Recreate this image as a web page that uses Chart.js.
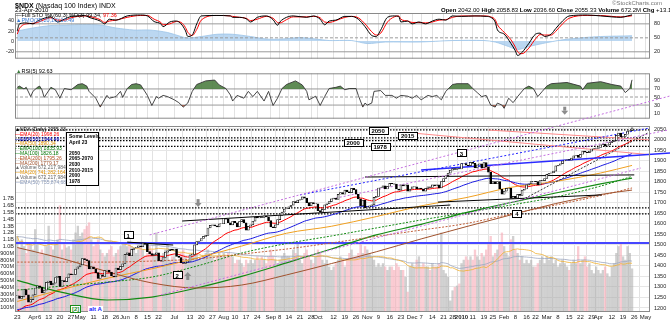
<!DOCTYPE html>
<html>
<head>
<meta charset="utf-8">
<script src="https://cdn.jsdelivr.net/npm/chart.js@4.4.1/dist/chart.umd.min.js"></script>
<style>
  body { margin:0; width:670px; height:322px; overflow:hidden; background:#fff; position:relative; font-family:"Liberation Sans", Arial, sans-serif; }
  canvas { position:absolute; left:0; }
  .t { position:absolute; white-space:nowrap; font-size:6px; line-height:5px; color:#000; }
  .b { font-weight:bold; }
  #legend { font-size:5px; line-height:4.8px; }
  #levels { position:absolute; left:66px; top:132px; width:33px; height:54px; border:1px solid #000; background:#fff; font-size:5px; line-height:5.6px; font-weight:bold; padding:1px 0 0 2px; box-sizing:border-box; white-space:nowrap; }
  .tag { position:absolute; font-size:6px; line-height:6px; font-weight:bold; background:#fff; padding:0 1px; white-space:nowrap; }
</style>
</head>
<body>
<canvas id="sto" width="670" height="66" style="top:0"></canvas>
<canvas id="rsi" width="670" height="60" style="top:66px"></canvas>
<canvas id="px" width="670" height="256" style="top:66px"></canvas>

<div class="t" style="left:15px;top:2px;font-size:7px;line-height:7px"><span class="b">$NDX</span> (Nasdaq 100 Index) INDX</div>
<div class="t" style="left:15px;top:8px">23-Apr-2010</div>
<div class="t" style="left:612px;top:1px;color:#777">&copy;StockCharts.com</div>
<div class="t" style="left:441px;top:8px"><span class="b">Open</span> 2042.00 <span class="b">High</span> 2058.83 <span class="b">Low</span> 2036.60 <span class="b">Close</span> 2055.33 <span class="b">Volume</span> 672.2M <span class="b">Chg</span> +13.17 (+0.65%) &#9650;</div>

<div class="t" style="left:16px;top:13px;font-size:5.5px">&mdash;Full STO %K(60,3) %D(3) 99.34, <span style="color:#f00">97.36</span></div>
<div class="t" style="left:16px;top:18px;font-size:5.5px;color:#3a7bd5">&#9650;PMO(35,20,10) 10.49</div>
<div class="t" style="left:16px;top:69px;font-size:5.5px"><span style="color:#3a7a3a">&#9650;</span>RSI(5) 92.63</div>

<div class="t" id="legend" style="left:15px;top:127px">
  <div><span style="color:#000">&#9650;</span>NDX (Daily) 2055.33</div>
  <div style="color:#f00">&mdash;EMA(20) 1998.26</div>
  <div style="color:#00c">&mdash;EMA(50) 1944.49</div>
  <div style="color:#e09000">&mdash;MA(50) 1890.34</div>
  <div style="color:#070">- -EMA(100) 1835.93</div>
  <div style="color:#070">&mdash;MA(100) 1826.18</div>
  <div style="color:#b05020">- -EMA(200) 1795.26</div>
  <div style="color:#a0522d">&mdash;MA(200) 1779.17</div>
  <div style="color:#666">&#9650;Volume 672,217,984</div>
  <div style="color:#e09000">&mdash;MA(20) 741,282,164</div>
  <div style="color:#666">&#9650;Volume 672,217,984</div>
  <div style="color:#8898b8">&mdash;EMA(50) 755,874,688</div>
</div>
<div id="levels">Some Levels<br>April 23<br><br>2050<br>2065-2070<br>2030<br>2010-2015<br>2000<br>1978</div>
<div class="tag" style="left:70px;top:305px;color:#1a8a1a;border:1px solid #1a8a1a">[2]</div>
<div class="tag" style="left:88px;top:306px;color:#2020ff">alt A</div>

<script>
var F = '"Liberation Sans", Arial, sans-serif';

// ---------- data ----------
var holidays = ['2009-04-10','2009-05-25','2009-07-03','2009-09-07','2009-11-26','2009-12-25',
                '2010-01-01','2010-01-18','2010-02-15','2010-04-02'];

// daily closes, 23 Mar 2009 .. 23 Apr 2010
var closes = [
  1258,1245,1255,1288,1262,1228,1240,
  1262,1295,1305,1298,1272,1285,1322,1328,1310,1318,1345,1350,1302,1330,1325,1345,1362,1358,1360,1385,1395,
  1405,1435,1430,1425,1385,1395,1385,1368,1340,1358,1350,1378,1380,1370,1352,1348,1390,1382,1398,1410,
  1455,1462,1448,1478,1485,1488,1495,1490,1508,1502,1468,1458,1450,1455,1462,1425,1422,1440,1465,1472,1480,1475,
  1480,1445,1440,1415,1412,1418,1422,1452,1455,1500,1515,1518,1530,1540,1545,1580,1592,1595,1590,1585,1600,1600,
  1625,1622,1605,1595,1612,1605,1585,1610,1620,1605,1570,1588,1595,1612,1630,1628,1632,1630,1638,1632,1615,
  1585,1582,1595,1620,1640,1655,1670,1672,1680,1688,1705,1700,1712,1715,1728,1722,1700,1685,1700,1695,1695,
  1662,1655,1668,1690,1695,1705,1718,1722,1715,1740,1748,1740,1760,1752,1748,1768,1762,1740,1718,1685,1712,1675,
  1680,1685,1690,1725,1730,1770,1772,1780,1765,1778,1792,1790,1788,1765,1760,1785,1780,1785,1755,1765,
  1775,1775,1765,1770,1765,1755,1768,1775,1772,1785,1780,1785,1770,1800,1815,1828,1840,1855,1862,1858,1862,1860,
  1886,1886,1878,1876,1892,1887,1865,1880,1884,1865,1890,1870,1845,1790,1800,1790,1800,1765,1740,
  1755,1768,1770,1720,1730,1722,1740,1735,1760,1765,1785,1790,1800,1802,1800,1785,1805,1805,1815,
  1835,1840,1842,1850,1875,1878,1885,1898,1902,1905,1902,1912,1922,1925,1915,1930,1945,1940,1938,1945,1955,1958,1958,
  1962,1975,1978,1968,1975,1985,1990,1995,2020,2030,2012,2015,2025,2040,2042,2055
];

// daily volume, millions
var volumes = [
  1150,980,1100,1000,900,1050,1020,
  950,1250,1050,900,950,880,1000,1300,1000,950,1050,1100,1600,950,1050,980,1000,950,1100,1200,1300,
  1150,1200,1250,1300,1350,1100,1000,1050,1100,950,900,850,900,950,1000,850,900,950,1000,1050,
  1050,1000,1050,1000,950,900,950,1000,950,850,900,1000,950,900,1200,900,850,900,950,1050,800,850,
  850,800,750,900,950,850,800,850,900,950,900,800,800,850,900,950,900,850,800,850,900,850,
  900,850,900,850,850,750,800,800,750,700,800,750,800,750,800,850,800,850,800,750,850,
  950,850,800,750,800,850,900,850,850,800,950,900,1050,800,750,900,950,850,800,750,850,
  950,900,800,750,800,700,650,700,750,800,850,800,700,800,900,950,850,850,900,1050,900,1000,
  950,900,850,800,700,750,700,750,700,650,700,700,650,750,700,650,650,550,330,700,
  750,700,800,850,700,750,700,700,650,750,700,700,750,1200,650,600,550,200,350,400,420,450,
  750,800,850,800,850,800,950,850,800,900,850,950,1050,1150,850,900,950,1050,1200,
  1000,900,850,1100,1150,950,900,800,850,750,800,750,800,700,700,750,800,850,750,
  850,800,850,750,800,700,750,800,750,700,650,750,800,750,1000,750,800,850,700,750,650,600,700,
  650,600,650,700,600,550,700,750,900,1000,1050,850,800,1000,900,672
];

// moving averages (bar index -> value)
var maIdx      = [0, 20, 40, 60, 80, 100, 120, 140, 160, 180, 200, 220, 240, 260, 274];
var ma50       = [1231,1288,1341,1386,1437,1494,1555,1588,1634,1685,1724,1773,1801,1841,1877];
var ema100     = [1285,1304,1323,1347,1399,1461,1506,1542,1580,1618,1653,1689,1727,1779,1825];
var ma100      = [1331,1274,1238,1252,1295,1350,1414,1480,1547,1597,1653,1701,1746,1789,1817];
var ema200     = [1418,1418,1418,1423,1433,1456,1480,1509,1540,1570,1601,1646,1689,1734,1770];
var ma200      = [1487,1435,1373,1319,1295,1309,1357,1411,1467,1528,1586,1642,1696,1739,1760];
var ema20Start = 1185;
var ema50Start = 1192;

// Full Stochastics %K / %D  [bar index, value]
var stochK = [[0,65],[1,80],[4,82],[7,80],[9,86],[12,92],[15,95],[18,84],[21,90],[24,96],[27,97],[30,98],[32,94],[37,86],[39,80],[41,90],[44,88],[49,97],[55,99],[58,97],[61,85],[64,80],[65,74],[68,84],[71,86],[73,80],[75,65],[76,53],[78,56],[80,80],[82,97],[89,98],[95,97],[96,94],[99,94],[102,91],[104,84],[107,94],[111,97],[114,89],[116,77],[117,84],[120,94],[123,97],[129,94],[132,97],[135,90],[137,78],[139,86],[142,88],[146,96],[149,96],[152,90],[155,74],[158,55],[160,53],[162,67],[165,94],[168,97],[170,96],[171,84],[174,86],[176,80],[179,84],[182,80],[185,86],[188,90],[191,88],[194,97],[198,96],[204,97],[209,96],[211,94],[213,84],[214,67],[217,58],[220,38],[222,22],[223,12],[225,19],[228,38],[231,58],[233,60],[235,53],[238,58],[240,70],[243,86],[246,97],[254,99],[260,97],[265,95],[269,94],[272,97],[274,99.3]];
var stochD = [[0,58],[1,70],[4,80],[7,81],[9,83],[12,89],[15,93],[18,88],[21,88],[24,93],[27,96],[30,97],[32,96],[37,89],[39,83],[41,86],[44,88],[49,94],[55,98],[58,98],[61,90],[64,83],[65,78],[68,80],[71,85],[73,83],[75,72],[76,62],[78,55],[80,68],[82,88],[89,98],[95,97],[96,96],[99,94],[102,92],[104,87],[107,90],[111,96],[114,92],[116,83],[117,82],[120,89],[123,95],[129,95],[132,96],[135,93],[137,84],[139,83],[142,87],[146,94],[149,96],[152,93],[155,80],[158,63],[160,56],[162,60],[165,84],[168,95],[170,97],[171,90],[174,86],[176,83],[179,83],[182,82],[185,84],[188,88],[191,89],[194,94],[198,97],[204,97],[209,97],[211,95],[213,89],[214,78],[217,62],[220,46],[222,30],[223,20],[225,16],[228,28],[231,48],[233,57],[235,56],[238,56],[240,64],[243,80],[246,92],[254,98],[260,98],[265,96],[269,95],[272,96],[274,97.4]];

// PMO area  [bar index, value]
var pmo = [[0,20],[7,26],[15,31],[22,32],[29,33],[37,32],[44,26],[52,22],[59,22],[67,17],[73,9],[76,6],[82,9],[89,13.5],[96,13.5],[104,9],[111,4],[118,4],[126,7],[133,4],[139,1],[142,1],[149,1],[156,-5],[164,-2],[179,-2],[194,1],[208,1],[213,-2],[219,-11],[223,-17],[228,-11],[234,-5],[243,2.4],[253,7],[260,9],[274,10.5]];

// RSI(5)  [bar index, value]
var rsi5 = [[0,74],[1,77],[3,70],[4,74],[6,51],[7,64],[9,74],[10,77],[11,68],[12,49],[15,74],[17,68],[19,47],[21,71],[24,68],[27,81],[29,83],[31,77],[32,64],[35,47],[37,25],[38,35],[40,54],[41,47],[44,51],[46,64],[47,49],[49,71],[51,81],[53,83],[55,80],[58,54],[60,29],[62,51],[63,47],[65,54],[67,51],[70,43],[72,36],[74,25],[76,35],[78,64],[80,81],[84,90],[88,92],[90,80],[93,71],[95,55],[96,40],[98,54],[101,47],[103,64],[105,51],[107,64],[110,40],[112,64],[114,29],[116,47],[118,71],[120,81],[124,90],[127,80],[129,64],[130,43],[133,52],[135,29],[137,51],[139,71],[142,74],[144,77],[146,68],[148,71],[151,71],[152,54],[154,25],[155,35],[156,30],[158,35],[159,64],[162,66],[164,54],[167,54],[169,47],[171,54],[174,52],[176,47],[178,54],[180,43],[183,54],[185,51],[187,54],[189,43],[191,64],[194,81],[196,83],[201,83],[203,71],[205,61],[207,51],[209,54],[211,30],[213,25],[214,35],[216,30],[217,22],[219,47],[221,36],[223,51],[226,71],[228,77],[230,71],[232,51],[234,64],[236,77],[238,83],[245,86],[251,77],[252,68],[254,84],[260,88],[265,81],[269,77],[271,61],[273,71],[274,92.6]];

// drawn levels and trendlines (prices, bar index)
var dottedLevels = [2046, 2008, 1995, 1967, 1675, 1647];
var blueLevel    = 1509;
var purpleLines  = [[59, 1547, 291, 2207], [64, 1262, 278, 1865], [142, 1722, 290, 2045]];
var blueDotLines = [[126, 1737, 282, 2055]];
var blueLines    = [[180, 1855, 291, 1936]];
var blackLines   = [[73.5, 1613, 193, 1689], [155, 1822, 275, 1832], [187.5, 1703, 260.5, 1737], [49, 1513, 69.5, 1499]];
var blackDotLines = [[225, 1713, 281, 2031]];
var pinkLines    = [[210, 2045, 282, 1998], [172, 2035, 282, 1928]];

// annotation labels
var levelBoxes = [['2050', 160.8, 2045], ['2015', 174, 2021], ['2000', 149.7, 1988], ['1978', 161.7, 1969],
                  ['1', 49.4, 1547], ['2', 71.3, 1357], ['3', 198, 1936], ['4', 222.7, 1651]];
var downArrows = [[80.6, 1698]];
var upArrows   = [[76, 1352]];

var tickDates = [
  ['2009-03-23','23'],['2009-04-01','Apr'],['2009-04-06','6'],['2009-04-13','13'],['2009-04-20','20'],['2009-04-27','27'],
  ['2009-05-01','May'],['2009-05-11','11'],['2009-05-18','18'],['2009-05-26','26'],
  ['2009-06-01','Jun'],['2009-06-08','8'],['2009-06-15','15'],['2009-06-22','22'],
  ['2009-07-01','Jul'],['2009-07-13','13'],['2009-07-20','20'],['2009-07-27','27'],
  ['2009-08-03','Aug'],['2009-08-10','10'],['2009-08-17','17'],['2009-08-24','24'],
  ['2009-09-01','Sep'],['2009-09-08','8'],['2009-09-14','14'],['2009-09-21','21'],['2009-09-28','28'],
  ['2009-10-01','Oct'],['2009-10-12','12'],['2009-10-19','19'],['2009-10-26','26'],
  ['2009-11-02','Nov'],['2009-11-09','9'],['2009-11-16','16'],['2009-11-23','23'],
  ['2009-12-01','Dec'],['2009-12-07','7'],['2009-12-14','14'],['2009-12-21','21'],['2009-12-28','28'],
  ['2010-01-04','2010'],['2010-01-11','11'],['2010-01-19','19'],['2010-01-25','25'],
  ['2010-02-01','Feb'],['2010-02-08','8'],['2010-02-16','16'],['2010-02-22','22'],
  ['2010-03-01','Mar'],['2010-03-08','8'],['2010-03-15','15'],['2010-03-22','22'],['2010-03-29','29'],
  ['2010-04-01','Apr'],['2010-04-12','12'],['2010-04-19','19'],['2010-04-26','26'],['2010-05-03','May']
];

// ---------- trading days ----------
var days = [];
var d = new Date(Date.UTC(2009, 2, 23));
while (d.getTime() <= Date.UTC(2010, 4, 5)) {
  var s = d.toISOString().slice(0, 10), wd = d.getUTCDay();
  if (wd > 0 && wd < 6 && holidays.indexOf(s) < 0) days.push(s);
  d.setUTCDate(d.getUTCDate() + 1);
}
var tickIdx = tickDates.map(function (t) { return days.indexOf(t[0]); });

// ---------- helpers ----------
function pairs(a) { return a.map(function (p) { return {x: p[0], y: p[1]}; }); }
function pts(idx, vals) { return idx.map(function (x, k) { return {x: x, y: vals[k]}; }); }
function ema(src, n, seed) {
  var k = 2 / (n + 1), e = seed, out = [];
  for (var i = 0; i < src.length; i++) { if (i > 0) e += k * (src[i] - e); out.push({x: i, y: e}); }
  return out;
}
function sma(src, n) {
  var out = [];
  for (var i = 0; i < src.length; i++) {
    var a = Math.max(0, i - n + 1), s = 0;
    for (var j = a; j <= i; j++) s += src[j];
    out.push({x: i, y: s / (i - a + 1)});
  }
  return out;
}
function line(data, color, w, dash, axis, order, smooth) {
  return {type: 'line', data: data, borderColor: color, borderWidth: w, borderDash: dash || [],
          pointRadius: 0, fill: false, tension: 0, cubicInterpolationMode: smooth ? 'monotone' : 'default',
          yAxisID: axis, order: order || 5};
}
function hline(v, color, w, dash, axis, order) {
  return line([{x: -1, y: v}, {x: 282, y: v}], color, w, dash, axis, order);
}
function segs(list, color, w, dash, out) {
  list.forEach(function (l) {
    var ds = line([{x: l[0], y: l[1]}, {x: l[2], y: l[3]}], color, w, dash, 'p', 4);
    // trendlines may run on over the panel above, as in the original
    ds.clip = {left: 0, top: 60, right: 20, bottom: 0};
    out.push(ds);
  });
}

function xScale(labels) {
  return {
    type: 'linear', min: -1, max: 282, offset: false,
    afterBuildTicks: function (s) { s.ticks = tickIdx.map(function (v) { return {value: v}; }); },
    afterFit: function (s) { s.height = labels ? 10 : 0; },
    grid: {color: '#e2e2e2', drawTicks: false},
    border: {display: false},
    ticks: {display: labels, autoSkip: false, maxRotation: 0, padding: 2, color: '#222',
      font: function (c) { var k = tickIdx.indexOf(c.tick ? c.tick.value : -5);
        return {size: 6, family: F, weight: (k >= 0 && tickDates[k][1] === '2010') ? 'bold' : 'normal'}; },
      callback: function (v) { var k = tickIdx.indexOf(v); return k >= 0 ? tickDates[k][1] : ''; }}
  };
}
function yScale(pos, min, max, ticks, fmt, grid) {
  return {
    type: 'linear', position: pos, min: min, max: max,
    afterBuildTicks: function (s) { s.ticks = ticks.map(function (v) { return {value: v}; }); },
    afterFit: function (s) { s.width = pos === 'left' ? 15 : 20; },
    grid: {display: !!grid, color: '#e6e6e6', drawTicks: false, tickLength: 0},
    border: {display: false},
    ticks: {font: {size: 5.5, family: F}, color: '#222', padding: pos === 'left' ? 1 : 4,
            callback: fmt || function (v) { return v; }}
  };
}

var framePlugin = {
  id: 'frame',
  afterDraw: function (c) {
    var a = c.chartArea, g = c.ctx;
    g.save(); g.strokeStyle = '#8a8a8a'; g.lineWidth = 1;
    g.strokeRect(a.left + 0.5, a.top + 0.5, a.right - a.left - 1, a.bottom - a.top - 1);
    g.restore();
  }
};

function arrow(g, x, y, up) {
  var s = up ? -1 : 1;
  g.fillStyle = '#8c8c8c';
  g.fillRect(x - 1.5, y - 4 * s, 3, 4 * s);
  g.beginPath(); g.moveTo(x - 3.5, y); g.lineTo(x + 3.5, y); g.lineTo(x, y + 4 * s); g.closePath(); g.fill();
}

var notesPlugin = {
  id: 'notes',
  afterDatasetsDraw: function (c, args, o) {
    if (!o.axis) return;
    var g = c.ctx, xs = c.scales.x, ys = c.scales[o.axis];
    g.save();
    g.font = 'bold 6px ' + F; g.textAlign = 'center'; g.textBaseline = 'middle';
    (o.boxes || []).forEach(function (b) {
      var x = xs.getPixelForValue(b[1]), y = ys.getPixelForValue(b[2]);
      var w = Math.round(g.measureText(b[0]).width + 6), h = 7;
      var l = Math.round(x - w / 2), t = Math.round(y - h / 2);
      g.fillStyle = '#fff'; g.fillRect(l, t, w, h);
      g.strokeStyle = '#000'; g.lineWidth = 1; g.strokeRect(l + 0.5, t + 0.5, w, h);
      g.fillStyle = '#000'; g.fillText(b[0], x, y + 1);
    });
    (o.down || []).forEach(function (a) { arrow(g, xs.getPixelForValue(a[0]), ys.getPixelForValue(a[1]), false); });
    (o.up || []).forEach(function (a) { arrow(g, xs.getPixelForValue(a[0]), ys.getPixelForValue(a[1]), true); });
    g.restore();
  }
};
Chart.register(framePlugin, notesPlugin);

function baseOptions(pad, scales, notes) {
  return {
    responsive: false, animation: false, events: [],
    layout: {padding: pad},
    plugins: {legend: {display: false}, tooltip: {enabled: false}, notes: notes || {}},
    scales: scales
  };
}

// ---------- stochastics panel ----------
new Chart(document.getElementById('sto'), {
  type: 'line',
  data: {datasets: [
    {data: pairs(pmo), yAxisID: 'l', borderColor: '#9cc4e8', backgroundColor: 'rgba(170,205,238,0.8)',
     borderWidth: 0.8, fill: 'origin', pointRadius: 0, tension: 0.3, order: 9},
    hline(80, '#9a9a9a', 1, [], 'k', 8), hline(50, '#9a9a9a', 1, [3, 2], 'k', 8), hline(20, '#9a9a9a', 1, [], 'k', 8),
    line(pairs(stochD), '#ff0000', 1, [], 'k', 3, true),
    line(pairs(stochK), '#000000', 1, [], 'k', 2, true)
  ]},
  options: baseOptions({top: 13, bottom: 2, left: 0, right: 0}, {
    x: xScale(false),
    l: yScale('left', -35.2, 55.9, [-20, 0, 20, 40]),
    k: yScale('right', 5.2, 103.3, [20, 50, 80])
  })
});

// ---------- RSI panel ----------
new Chart(document.getElementById('rsi'), {
  type: 'line',
  data: {datasets: [
    hline(70, '#9a9a9a', 1, [], 'k', 8), hline(50, '#9a9a9a', 1, [3, 2], 'k', 8), hline(30, '#9a9a9a', 1, [], 'k', 8),
    {data: pairs(rsi5), yAxisID: 'k', borderWidth: 0, pointRadius: 0, tension: 0, order: 7,
     fill: {target: {value: 70}, above: 'rgba(78,126,66,0.9)', below: 'rgba(0,0,0,0)'}},
    {data: pairs(rsi5), yAxisID: 'k', borderWidth: 0, pointRadius: 0, tension: 0, order: 7,
     fill: {target: {value: 30}, above: 'rgba(0,0,0,0)', below: 'rgba(170,90,70,0.9)'}},
    line(pairs(rsi5), '#333333', 0.9, [], 'k', 2)
  ]},
  options: baseOptions({top: 1, bottom: 1, left: 0, right: 0}, {
    x: xScale(false),
    l: yScale('left', -3.8, 108.8, []),
    k: yScale('right', -3.8, 108.8, [10, 30, 50, 70, 90])
  }, {axis: 'k', down: [[244, 16]]})
});

// ---------- price / volume panel ----------
var candles = [], candleColor = [], vols = [], volColor = [];
for (var i = 0; i < closes.length; i++) {
  var o = i > 0 ? closes[i - 1] : closes[0], c = closes[i];
  candles.push({x: i, y: [Math.min(o, c), Math.max(o, c) + (o === c ? 1 : 0)]});
  candleColor.push(c >= o ? '#ffffff' : '#000000');
  vols.push({x: i, y: volumes[i] * 1e6});
  volColor.push(c < o ? 'rgba(246,170,182,0.6)' : 'rgba(170,170,170,0.55)');
}
var volRaw = volumes.map(function (v) { return v * 1e6; });

var pxSets = [
  {type: 'bar', data: vols, yAxisID: 'v', backgroundColor: volColor, barThickness: 1.7, grouped: false, order: 12},
  line(sma(volRaw, 20), '#f0b030', 0.8, [], 'v', 11),
  line(ema(volRaw, 50, volRaw[0]), '#9aa6c0', 0.8, [], 'v', 11),
  hline(blueLevel, '#4646ff', 2, [], 'p', 6)
];
dottedLevels.forEach(function (v) { pxSets.push(hline(v, '#000', 1.3, [1.5, 1.5], 'p', 6)); });
pxSets.push(line(pts(maIdx, ma200), '#a0522d', 1, [], 'p', 5, true));
pxSets.push(line(pts(maIdx, ema200), '#c0603a', 1, [2, 1.5], 'p', 5, true));
pxSets.push(line(pts(maIdx, ma100), '#138a13', 1.2, [], 'p', 5, true));
pxSets.push(line(pts(maIdx, ema100), '#138a13', 1, [2, 1.5], 'p', 5, true));
pxSets.push(line(pts(maIdx, ma50), '#f0a020', 1, [], 'p', 5, true));
pxSets.push(line(ema(closes, 50, ema50Start), '#1a1ae0', 1, [], 'p', 5));
pxSets.push(line(ema(closes, 20, ema20Start), '#ff0000', 1, [], 'p', 5));
segs(purpleLines, '#c46ee0', 1, [2, 2], pxSets);
segs(blueDotLines, '#2222ff', 1, [2, 2], pxSets);
segs(blueLines, '#2a2aff', 1.5, [], pxSets);
segs(blackLines, '#000', 1, [], pxSets);
segs(blackDotLines, '#333', 1, [2, 1.5], pxSets);
segs(pinkLines, '#ff8a8a', 1, [], pxSets);
pxSets.push({type: 'bar', data: candles, yAxisID: 'p', backgroundColor: candleColor, borderColor: '#000',
             borderWidth: 0.7, borderSkipped: false, barThickness: 2, grouped: false, order: 1});

var volTicks = [];
for (var v = 1; v <= 17; v++) volTicks.push(v * 1e8);
var priceTicks = [];
for (var p = 1200; p <= 2050; p += 50) priceTicks.push(p);

new Chart(document.getElementById('px'), {
  type: 'bar',
  data: {datasets: pxSets},
  options: baseOptions({top: 60, bottom: 0, left: 0, right: 0}, {
    x: xScale(true),
    v: yScale('left', 3.68e7, 2.772e9, volTicks, function (v) {
      return v >= 1e9 ? (v / 1e9).toFixed(1) + 'B' : Math.round(v / 1e6) + 'M'; }),
    p: yScale('right', 1181, 2064.2, priceTicks, null, true)
  }, {axis: 'p', boxes: levelBoxes, down: downArrows, up: upArrows})
});
</script>
</body>
</html>
